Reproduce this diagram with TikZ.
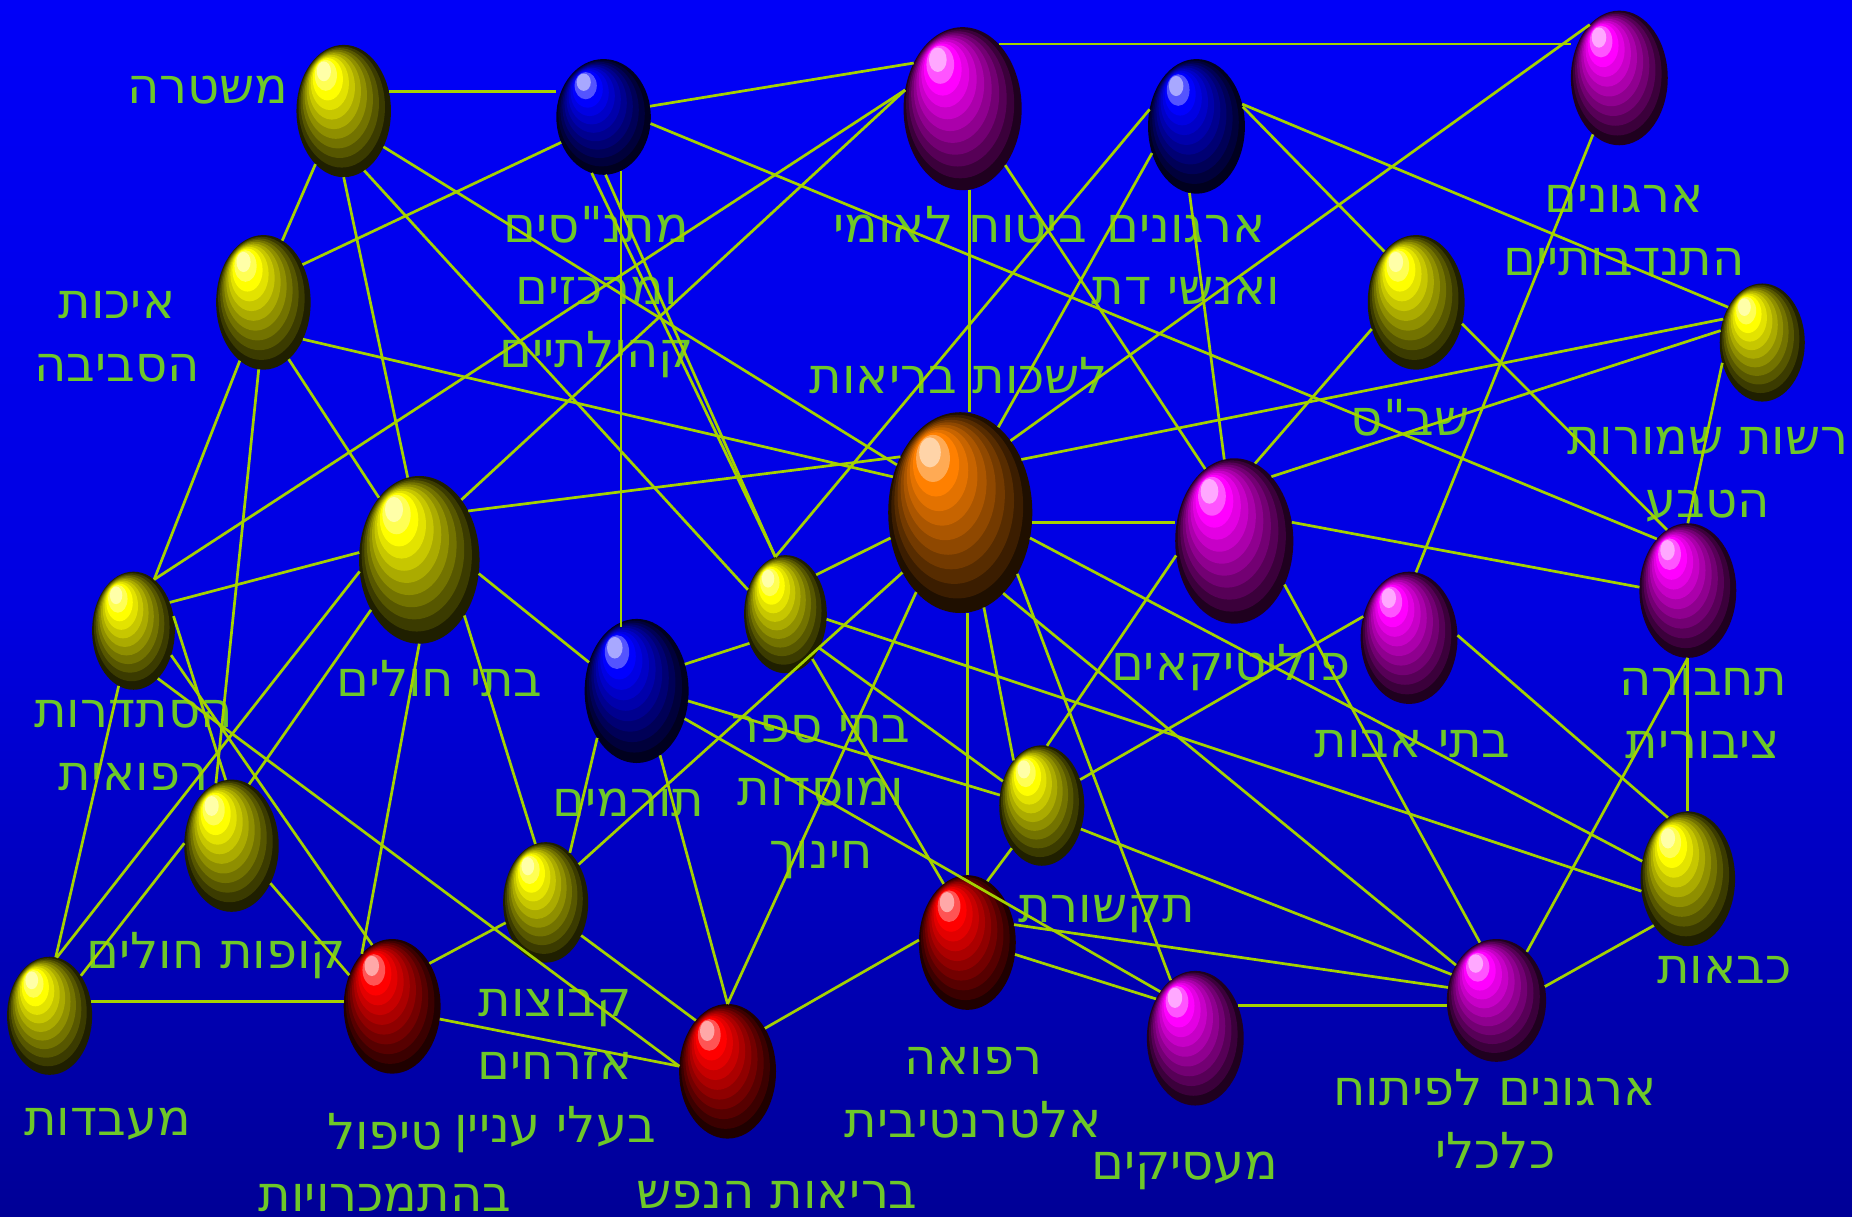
\documentclass[tikz,border=0pt]{standalone}
\usepackage{fontspec}
\newfontfamily\hebfont[Script=Hebrew]{DejaVu Sans}
\TeXXeTstate=1
\usetikzlibrary{shapes.geometric}

\definecolor{wirecol}{RGB}{165,210,0}
\definecolor{tagcol}{RGB}{110,200,40}
\definecolor{skytop}{RGB}{0,0,248}
\definecolor{skymid}{RGB}{0,0,225}
\definecolor{skybot}{RGB}{0,0,150}
\definecolor{ballyellow}{RGB}{255,255,0}
\definecolor{ballblue}{RGB}{0,0,255}
\definecolor{ballpink}{RGB}{255,0,255}
\definecolor{ballred}{RGB}{255,0,0}
\definecolor{ballorange}{RGB}{255,128,0}

\tikzset{
  ballhub/.style={ellipse, inner sep=0pt, outer sep=0pt},
  balltag/.style={text=tagcol, font=\hebfont\fontsize{42}{53}\selectfont,
    align=center, anchor=base, inner sep=0pt},
  wire/.style={draw=wirecol, line width=2.3pt},
}

% stepped ball: name, x, y, x radius, y radius, colour
\newcommand{\ballnode}[6]{%
  \foreach \k in {0,...,10}{%
    \pgfmathsetmacro{\rf}{\k/10}
    \pgfmathsetmacro{\rcx}{#2-0.42*#4*\rf}
    \pgfmathsetmacro{\rcy}{#3-0.60*#5*\rf}
    \pgfmathsetmacro{\rsx}{#4*(1-0.85*\rf)}
    \pgfmathsetmacro{\rsy}{#5*(1-0.85*\rf)}
    \ifnum\k<9
      \pgfmathtruncatemacro{\pct}{12+\k*11}
      \fill[#6!\pct!black] (\rcx,\rcy) ellipse [x radius=\rsx, y radius=\rsy];
    \else
      \pgfmathtruncatemacro{\pct}{100-(\k-8)*33}
      \fill[#6!\pct!white] (\rcx,\rcy) ellipse [x radius=\rsx, y radius=\rsy];
    \fi
  }%
  \node[ballhub, minimum width=2*#4, minimum height=2*#5] (#1) at (#2,#3) {};
}
\newcommand{\heb}[1]{\beginR #1\endR}

\begin{document}
\begin{tikzpicture}[x=1pt, y=-1pt]

  % --- 1. background ---
  \useasboundingbox (0,0) rectangle (1568,1030);
  \fill[top color=skytop, bottom color=skybot, middle color=skymid] (0,0) rectangle (1568,1030);

  % --- 2. labels (anchored at the baseline of the last line) ---
  \node[balltag] (police-tag)    at (176,88)   {\heb{משטרה}};
  \node[balltag] (matnas-tag)    at (505,311)  {\heb{מתנ"סים}\\\heb{ומרכזים}\\\heb{קהילתיים}};
  \node[balltag] (bituach-tag)   at (813,205)  {\heb{ביטוח לאומי}};
  \node[balltag] (religion-tag)  at (1004,258) {\heb{ארגונים}\\\heb{ואנשי דת}};
  \node[balltag] (volunteer-tag) at (1375,233) {\heb{ארגונים}\\\heb{התנדבותיים}};
  \node[balltag] (ecology-tag)   at (99,323)   {\heb{איכות}\\\heb{הסביבה}};
  \node[balltag] (office-tag)    at (812,333)  {\heb{לשכות בריאות}};
  \node[balltag] (prison-tag)    at (1194,369) {\heb{שב"ס}};
  \node[balltag] (nature-tag)    at (1446,438) {\heb{רשות שמורות}\\\heb{הטבע}};
  \node[balltag] (hospitals-tag) at (372,590)  {\heb{בתי חולים}};
  \node[balltag] (politics-tag)  at (1042,576) {\heb{פוליטיקאים}};
  \node[balltag] (union-tag)     at (113,669)  {\heb{הסתדרות}\\\heb{רפואית}};
  \node[balltag] (schools-tag)   at (695,735)  {\heb{בתי ספר}\\\heb{ומוסדות}\\\heb{חינוך}};
  \node[balltag] (donors-tag)    at (532,691)  {\heb{תורמים}};
  \node[balltag] (elderly-tag)   at (1196,641) {\heb{בתי אבות}};
  \node[balltag] (transit-tag)   at (1442,642) {\heb{תחבורה}\\\heb{ציבורית}};
  \node[balltag] (kupot-tag)     at (183,820)  {\heb{קופות חולים}};
  \node[balltag] (media-tag)     at (937,781)  {\heb{תקשורת}};
  \node[balltag] (citizens-tag)  at (470,967)  {\heb{קבוצות}\\\heb{אזרחים}\\\heb{בעלי עניין}};
  \node[balltag] (fire-tag)      at (1460,833) {\heb{כבאות}};
  \node[balltag] (labs-tag)      at (91,961)   {\heb{מעבדות}};
  \node[balltag] (addiction-tag) at (326,1026) {\heb{טיפול}\\\heb{בהתמכרויות}};
  \node[balltag] (altmed-tag)    at (824,963)  {\heb{רפואה}\\\heb{אלטרנטיבית}};
  \node[balltag] (mental-tag)    at (658,1023) {\heb{בריאות הנפש}};
  \node[balltag] (employers-tag) at (1003,999) {\heb{מעסיקים}};
  \node[balltag] (economy-tag)   at (1266,989) {\heb{ארגונים לפיתוח}\\\heb{כלכלי}};

  % --- 3. balls ---
  \ballnode{police}{291}{94}{40}{56}{ballyellow}
  \ballnode{matnas}{511}{99}{40}{49}{ballblue}
  \ballnode{bituach}{815}{92}{50}{69}{ballpink}
  \ballnode{religion}{1013}{107}{41}{57}{ballblue}
  \ballnode{volunteer}{1371}{66}{41}{57}{ballpink}
  \ballnode{ecology}{223}{256}{40}{57}{ballyellow}
  \ballnode{prison}{1199}{256}{41}{57}{ballyellow}
  \ballnode{nature}{1492}{290}{36}{50}{ballyellow}
  \ballnode{office}{813}{434}{61}{85}{ballorange}
  \ballnode{hospitals}{355}{474}{51}{71}{ballyellow}
  \ballnode{politics}{1045}{458}{50}{70}{ballpink}
  \ballnode{union}{113}{534}{35}{50}{ballyellow}
  \ballnode{schools}{665}{520}{35}{50}{ballyellow}
  \ballnode{donors}{539}{585}{44}{61}{ballblue}
  \ballnode{elderly}{1193}{540}{41}{56}{ballpink}
  \ballnode{transit}{1429}{500}{41}{57}{ballpink}
  \ballnode{kupot}{196}{716}{40}{56}{ballyellow}
  \ballnode{media}{882}{682}{36}{51}{ballyellow}
  \ballnode{citizens}{462}{764}{36}{51}{ballyellow}
  \ballnode{fire}{1429}{744}{40}{57}{ballyellow}
  \ballnode{labs}{42}{860}{36}{50}{ballyellow}
  \ballnode{addiction}{332}{852}{41}{57}{ballred}
  \ballnode{altmed}{819}{798}{41}{57}{ballred}
  \ballnode{mental}{616}{907}{41}{57}{ballred}
  \ballnode{employers}{1012}{879}{41}{57}{ballpink}
  \ballnode{economy}{1267}{847}{42}{52}{ballpink}

  % --- 4. connectors ---
  \draw[wire] (police.23) -- (police.23 -| matnas.west);
  \draw[wire] (police.242) -- (ecology.73);
  \draw[wire] (police.270) -- (hospitals.98);
  \draw[wire] (police.289) -- (schools.147);
  \draw[wire] (police.318) -- (office.143);
  \draw[wire] (matnas.13) -- (bituach.137);
  \draw[wire] (matnas.211) -- (ecology.44);
  \draw[wire] (matnas.288) -- (matnas.288 |- donors.110);
  \draw[wire] (matnas.258) -- (schools.100);
  \draw[wire] (matnas.272) -- (schools.100);
  \draw[wire] (matnas.352) -- (transit.121);
  \draw[wire] (bituach.61) -- (bituach.61 -| volunteer.west);
  \draw[wire] (bituach.275) -- (bituach.275 |- office.north);
  \draw[wire] (bituach.307) -- (politics.112);
  \draw[wire] (bituach.162) -- (hospitals.55);
  \draw[wire] (bituach.162) -- (union.68);
  \draw[wire] (religion.160) -- (schools.100);
  \draw[wire] (religion.211) -- (office.66);
  \draw[wire] (religion.264) -- (politics.97);
  \draw[wire] (religion.23) -- (prison.122);
  \draw[wire] (religion.26) -- (nature.134);
  \draw[wire] (volunteer.119) -- (office.55);
  \draw[wire] (volunteer.245) -- (elderly.84);
  \draw[wire] (ecology.317) -- (office.152);
  \draw[wire] (ecology.248) -- (union.68);
  \draw[wire] (ecology.266) -- (kupot.104);
  \draw[wire] (ecology.294) -- (hospitals.123);
  \draw[wire] (prison.211) -- (politics.75);
  \draw[wire] (prison.335) -- (transit.109);
  \draw[wire] (nature.149) -- (office.41);
  \draw[wire] (nature.164) -- (politics.60);
  \draw[wire] (nature.207) -- (transit.north);
  \draw[wire] (office.137) -- (hospitals.45);
  \draw[wire] (office.352) -- (office.352 -| politics.west);
  \draw[wire] (office.200) -- (schools.52);
  \draw[wire] (office.226) -- (citizens.49);
  \draw[wire] (office.241) -- (mental.north);
  \draw[wire] (altmed.north |- office.south) -- (altmed.north);
  \draw[wire] (office.284) -- (media.122);
  \draw[wire] (office.313) -- (employers.113);
  \draw[wire] (office.298) -- (economy.139);
  \draw[wire] (office.340) -- (fire.159);
  \draw[wire] (politics.18) -- (transit.176);
  \draw[wire] (politics.194) -- (media.85);
  \draw[wire] (politics.319) -- (economy.106);
  \draw[wire] (hospitals.173) -- (union.38);
  \draw[wire] (hospitals.347) -- (donors.149);
  \draw[wire] (hospitals.191) -- (labs.83);
  \draw[wire] (hospitals.226) -- (kupot.74);
  \draw[wire] (hospitals.south) -- (addiction.120);
  \draw[wire] (hospitals.309) -- (citizens.100);
  \draw[wire] (union.255) -- (labs.84);
  \draw[wire] (union.20) -- (kupot.95);
  \draw[wire] (union.327) -- (addiction.108);
  \draw[wire] (union.297) -- (mental.174);
  \draw[wire] (schools.219) -- (donors.29);
  \draw[wire] (schools.353) -- (fire.195);
  \draw[wire] (schools.315) -- (media.148);
  \draw[wire] (schools.301) -- (altmed.112);
  \draw[wire] (donors.349) -- (media.166);
  \draw[wire] (donors.330) -- (employers.127);
  \draw[wire] (donors.290) -- (mental.north);
  \draw[wire] (donors.230) -- (citizens.64);
  \draw[wire] (elderly.155) -- (media.34);
  \draw[wire] (elderly.3) -- (fire.108);
  \draw[wire] (transit.south) -- (fire.north);
  \draw[wire] (transit.south) -- (economy.58);
  \draw[wire] (kupot.316) -- (addiction.144);
  \draw[wire] (kupot.177) -- (labs.52);
  \draw[wire] (media.235) -- (altmed.72);
  \draw[wire] (media.329) -- (economy.150);
  \draw[wire] (citizens.207) -- (addiction.49);
  \draw[wire] (citizens.317) -- (mental.122);
  \draw[wire] (fire.234) -- (economy.16);
  \draw[wire] (labs.19) -- (labs.19 -| addiction.west);
  \draw[wire] (addiction.345) -- (mental.174);
  \draw[wire] (altmed.177) -- (mental.49);
  \draw[wire] (altmed.346) -- (employers.135);
  \draw[wire] (altmed.21) -- (economy.165);
  \draw[wire] (employers.38) -- (employers.38 -| economy.west);

\end{tikzpicture}
\end{document}
